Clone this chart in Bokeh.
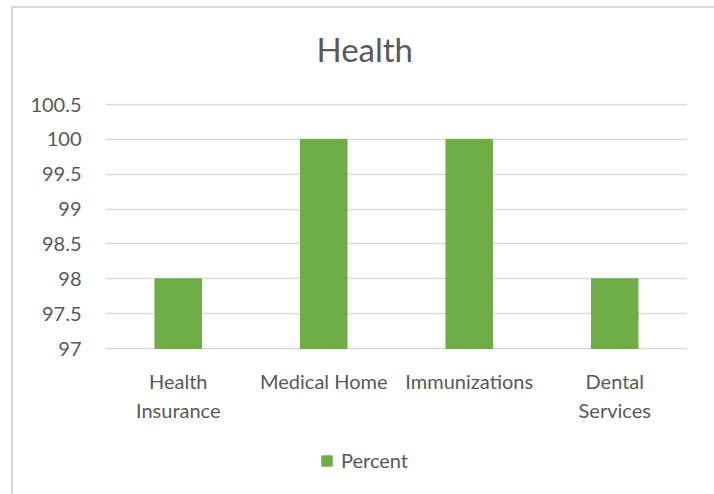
from bokeh.plotting import figure
from bokeh.models import (FactorRange, Range1d, FixedTicker, ColumnDataSource,
                          Legend, LegendItem, InlineStyleSheet)
from bokeh.core.properties import value
from bokeh.embed import file_html
from bokeh.resources import INLINE

title = "Health"
categories = ["Health Insurance", "Medical Home", "Immunizations", "Dental Services"]
label_line1 = ["Health", "Medical Home", "Immunizations", "Dental"]
label_line2 = ["Insurance", "", "", "Services"]
percent = [98, 100, 100, 98]
y_ticks = [97, 97.5, 98, 98.5, 99, 99.5, 100, 100.5]
y_tick_labels = ["97", "97.5", "98", "98.5", "99", "99.5", "100", "100.5"]
axis_min, axis_max = 97, 100.5

FONT = "Lato"
TEXT = "#595959"
GRID = "#d9d9d9"
GREEN = "#70ad47"

# the frame fills the canvas height; the value axis 97..100.5 spans 244px starting 104px from the top
px_per_unit = 244 / (axis_max - axis_min)
y_start = axis_min - 146 / px_per_unit
y_end = axis_max + 104 / px_per_unit

p = figure(width=714, height=494, output_backend="svg", toolbar_location=None,
           x_range=FactorRange(*categories), y_range=Range1d(y_start, y_end),
           min_border_left=105, min_border_right=27, min_border_top=0, min_border_bottom=0)

src = ColumnDataSource(dict(cat=categories, val=percent, base=[axis_min] * len(categories),
                            l1=label_line1, l2=label_line2))
r = p.vbar(x="cat", top="val", bottom=axis_min, width=0.32, source=src, color=GREEN)

p.outline_line_color = None
p.xgrid.grid_line_color = None
p.ygrid.grid_line_color = GRID
p.ygrid.grid_line_width = 1.5

p.yaxis.ticker = FixedTicker(ticks=y_ticks)
p.yaxis.major_label_overrides = {t: l for t, l in zip(y_ticks, y_tick_labels)}
p.yaxis.axis_line_color = None
p.yaxis.major_tick_line_color = None
p.yaxis.minor_tick_line_color = None
p.yaxis.major_label_standoff = 18
p.yaxis.major_label_text_font = FONT
p.yaxis.major_label_text_font_size = "20px"
p.yaxis.major_label_text_color = TEXT

p.xaxis.visible = False

# chart title, centred on the chart area (slightly left of the plot frame centre)
p.text(x=[categories[1]], y=[axis_max], text=[title], x_offset=41, y_offset=-56,
       text_align="center", text_baseline="middle", text_font=value(FONT),
       text_font_size="33px", text_color=TEXT)

for col, off in (("l1", 32), ("l2", 61)):
    p.text(x="cat", y="base", text=col, source=src, x_offset=0, y_offset=off,
           text_align="center", text_baseline="middle", text_font=value(FONT),
           text_font_size="20px", text_color=TEXT)

legend = Legend(items=[LegendItem(label="Percent", renderers=[r])], orientation="horizontal",
                location=(215, 22), border_line_color=None, background_fill_alpha=0,
                glyph_width=13, glyph_height=13, label_standoff=8, padding=0, margin=0,
                label_text_font=FONT, label_text_font_size="20px", label_text_color=TEXT)
p.add_layout(legend, "center")

p.stylesheets = [InlineStyleSheet(css=(
    ":host { position: relative; }"
    ":host::after { content: ''; position: absolute; left: 11px; top: 6px; right: 0; bottom: 0;"
    " border-left: 2px solid #d9d9d9; border-top: 2px solid #d9d9d9; pointer-events: none; }"
))]

open("out.html", "w").write(file_html(p, INLINE))
